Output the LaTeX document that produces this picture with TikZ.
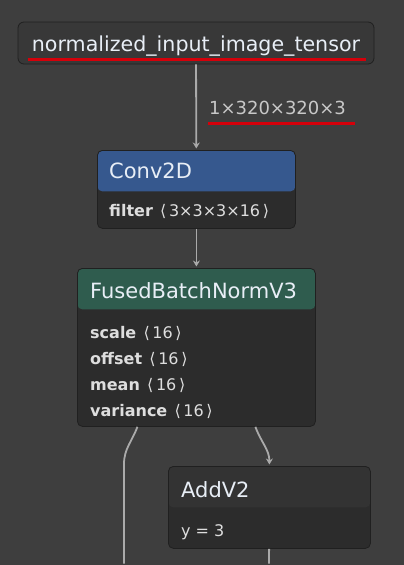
\documentclass[tikz,border=0pt]{standalone}
\usepackage{fontspec}
\setmainfont{DejaVu Sans}
\usetikzlibrary{arrows.meta,positioning}

\definecolor{canvas}{RGB}{62,62,62}
\definecolor{inputfill}{RGB}{56,56,56}
\definecolor{boxline}{RGB}{32,32,32}
\definecolor{bodyfill}{RGB}{44,44,44}
\definecolor{convhead}{RGB}{54,88,142}
\definecolor{fbnhead}{RGB}{47,92,78}
\definecolor{addhead}{RGB}{51,51,51}
\definecolor{headtext}{RGB}{232,238,246}
\definecolor{attrtext}{RGB}{222,222,222}
\definecolor{shapetext}{RGB}{200,200,200}
\definecolor{edgegray}{RGB}{170,170,170}
\definecolor{markred}{RGB}{212,0,10}

\newcommand{\tdim}[1]{\hspace{0.45em}⟨\,#1\,⟩}

\begin{document}
\begin{tikzpicture}[x=1pt,y=-1pt,>={Stealth[length=6pt,width=7pt]},shorten >=1.5pt,
    edge/.style={draw=edgegray,line width=1.8pt},
    op box/.style={anchor=north west,inner sep=0pt,rounded corners=5pt,fill=bodyfill,draw=boxline,line width=0.8pt,
      path picture={\fill[#1] (path picture bounding box.north west) rectangle ([yshift=-41pt]path picture bounding box.north east);}},
    op name/.style={anchor=west,inner sep=0pt,text=headtext,font=\fontsize{21}{24}\selectfont},
    op attr/.style={anchor=north west,inner sep=0pt,align=left,text=attrtext,font=\fontsize{16}{26}\selectfont},
    shape text/.style={pos=0.51,anchor=west,xshift=12pt,inner sep=0pt,text=shapetext,font=\fontsize{18}{22}\selectfont},
    mark line/.style={draw=markred,line width=3pt}]
  \fill[canvas] (0,0) rectangle (404,565);
  \useasboundingbox (0,0) rectangle (404,565);

  % input
  \node[rounded corners=6pt,fill=inputfill,draw=boxline,line width=0.8pt,minimum width=356pt,minimum height=42pt,inner sep=0pt,
    text=headtext,font=\fontsize{20.6}{24}\selectfont,text height=16pt,text depth=0pt] (input) at (196,43) {normalized\_input\_image\_tensor};

  % operators
  \node[op box=convhead,minimum width=198pt,minimum height=78pt] (conv) at (97,150) {};
  \node[op name] (convname) at ([shift={(12pt,-20.5pt)}]conv.north west) {Conv2D};
  \node[op attr] (convattr) at ([shift={(12pt,-54pt)}]conv.north west) {\textbf{filter}\tdim{3×3×3×16}};

  \node[op box=fbnhead,minimum width=238pt,minimum height=158pt] (fbn) at (77,268) {};
  \node[op name] (fbnname) at ([shift={(13pt,-22.5pt)}]fbn.north west) {FusedBatchNormV3};
  \node[op attr] (fbnattr) at ([shift={(13pt,-58pt)}]fbn.north west) {\textbf{scale}\tdim{16}\\\textbf{offset}\tdim{16}\\\textbf{mean}\tdim{16}\\\textbf{variance}\tdim{16}};

  \node[op box=addhead,minimum width=202pt,minimum height=82pt] (add) at (168,466) {};
  \node[op name] (addname) at ([shift={(13pt,-23.5pt)}]add.north west) {AddV2};
  \node[op attr] (addattr) at ([shift={(13pt,-58pt)}]add.north west) {y = 3};

  \coordinate (bendl) at (124,464);
  \coordinate (outl) at (124,565);
  \coordinate (outr) at (269,565);

  % connectors
  \draw[edge,->] (input) -- node[shape text] (shape) {1×320×320×3} (conv);
  \draw[edge,->] (conv) -- (fbn);
  \draw[edge,->] ([xshift=59pt]fbn.south) to[out=-70,in=90] (add.north);
  \draw[edge] ([xshift=-59pt]fbn.south) to[out=-110,in=90] (bendl) -- (outl);
  \draw[edge] (add) -- (outr);

  % marks
  \draw[mark line] ([xshift=10pt,yshift=5pt]input.south west) -- ([xshift=-7pt,yshift=5pt]input.south east);
  \draw[mark line] ([yshift=-8pt]shape.south west) -- ([xshift=10pt,yshift=-8pt]shape.south east);
\end{tikzpicture}
\end{document}
